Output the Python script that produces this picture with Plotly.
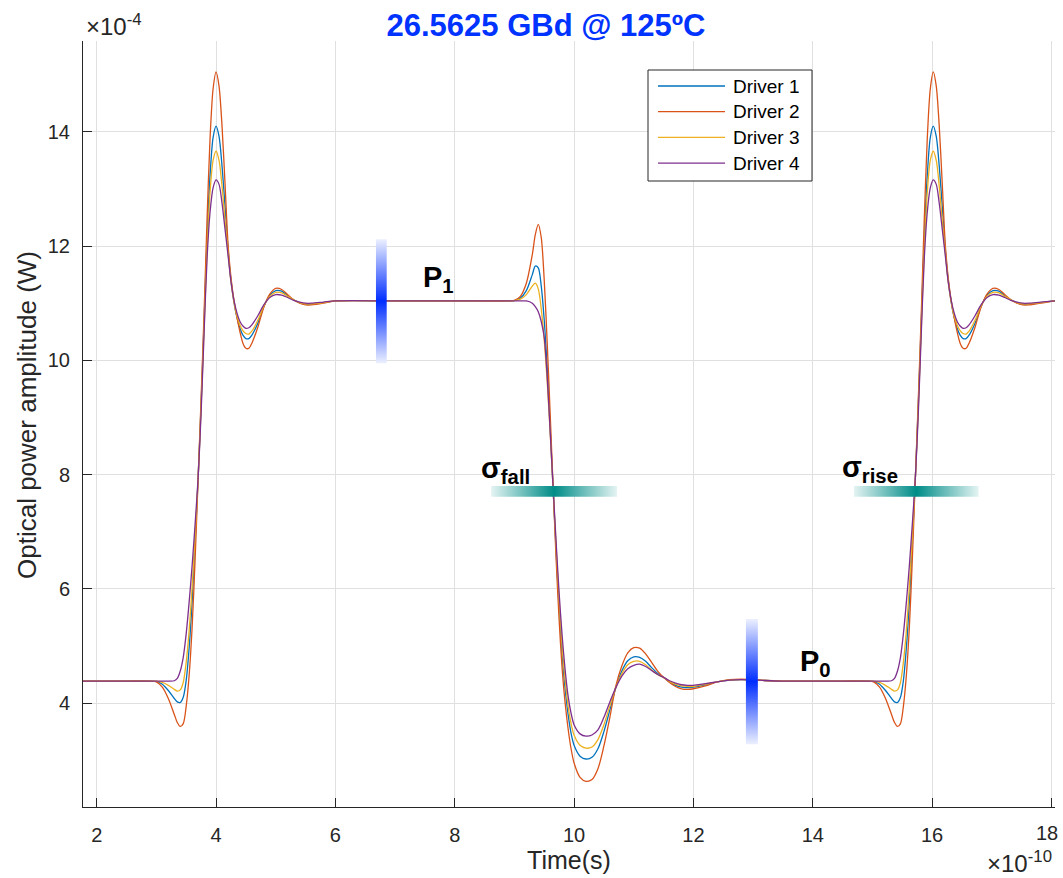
import plotly.graph_objects as go

# Time in units of 1e-10 s, optical power in units of 1e-4 W
time_e10 = [
    # first rising edge
    1.77, 2.5, 2.9, 3.0, 3.1, 3.2, 3.3, 3.35, 3.4, 3.45, 3.5, 3.55, 3.6, 3.65, 3.7,
    3.75, 3.8, 3.85, 3.9, 3.95, 4.0, 4.05, 4.1, 4.15, 4.2, 4.25, 4.3, 4.35, 4.4, 4.45,
    4.5, 4.55, 4.6, 4.7, 4.8, 4.9, 5.0, 5.1, 5.2, 5.3, 5.4, 5.5, 5.6, 5.8, 6.0,
    # falling edge
    7.0, 8.0, 8.9, 9.0, 9.1, 9.2, 9.3, 9.35, 9.4, 9.45, 9.5, 9.55, 9.6, 9.65, 9.7,
    9.75, 9.8, 9.85, 9.9, 9.95, 10.0, 10.1, 10.2, 10.3, 10.4, 10.5, 10.6, 10.7, 10.8,
    10.9, 11.0, 11.1, 11.2, 11.3, 11.4, 11.5, 11.6, 11.7, 11.8, 11.9, 12.0, 12.2, 12.4,
    12.6, 12.8, 13.0, 13.2, 13.5, 14.0, 14.5,
    # second rising edge
    14.92, 15.02, 15.12, 15.22, 15.32, 15.37, 15.42, 15.47, 15.52, 15.57, 15.62, 15.67,
    15.72, 15.77, 15.82, 15.87, 15.92, 15.97, 16.02, 16.07, 16.12, 16.17, 16.22, 16.27,
    16.32, 16.37, 16.42, 16.47, 16.52, 16.57, 16.62, 16.72, 16.82, 16.92, 17.02, 17.12,
    17.22, 17.32, 17.42, 17.52, 17.62, 17.82, 18.06,
]

driver1 = [
    4.385, 4.385, 4.385, 4.378, 4.33, 4.22, 4.08, 4.02, 4.01, 4.10, 4.40, 4.98, 5.80, 6.85, 7.95,
    9.25, 10.70, 12.15, 13.25, 13.90, 14.10, 13.92, 13.40, 12.70, 11.95, 11.40, 11.02, 10.75, 10.56, 10.44,
    10.38, 10.38, 10.44, 10.65, 10.94, 11.14, 11.22, 11.21, 11.13, 11.06, 11.01, 10.98, 10.98, 11.01, 11.04,
    11.04, 11.04, 11.04, 11.045, 11.09, 11.22, 11.50, 11.65, 11.62, 11.30, 10.70, 9.85, 8.80, 7.72, 6.65,
    5.65, 4.85, 4.25, 3.80, 3.47, 3.26, 3.07, 3.02, 3.05, 3.20, 3.50, 3.88, 4.27, 4.56,
    4.74, 4.81, 4.80, 4.73, 4.62, 4.52, 4.45, 4.37, 4.31, 4.28, 4.27, 4.28, 4.32, 4.37,
    4.40, 4.41, 4.405, 4.395, 4.385, 4.385, 4.385,
    4.385, 4.378, 4.33, 4.22, 4.08, 4.02, 4.01, 4.10, 4.40, 4.98, 5.80, 6.85,
    7.95, 9.25, 10.70, 12.15, 13.25, 13.90, 14.10, 13.92, 13.40, 12.70, 11.95, 11.40,
    11.02, 10.75, 10.56, 10.44, 10.38, 10.38, 10.44, 10.65, 10.94, 11.14, 11.22, 11.21,
    11.13, 11.06, 11.01, 10.98, 10.98, 11.01, 11.04,
]

driver2 = [
    4.385, 4.385, 4.385, 4.37, 4.28, 4.08, 3.80, 3.66, 3.59, 3.64, 3.95, 4.50, 5.35, 6.55, 7.95,
    9.35, 10.85, 12.50, 13.90, 14.75, 15.05, 14.80, 14.10, 13.10, 12.05, 11.45, 11.05, 10.75, 10.50, 10.30,
    10.21, 10.21, 10.30, 10.58, 10.93, 11.16, 11.26, 11.24, 11.15, 11.06, 11.00, 10.97, 10.97, 11.00, 11.04,
    11.04, 11.04, 11.04, 11.05, 11.12, 11.35, 11.85, 12.20, 12.38, 12.15, 11.40, 10.30, 9.05, 7.75, 6.50,
    5.45, 4.60, 4.00, 3.55, 3.20, 2.95, 2.70, 2.63, 2.66, 2.85, 3.25, 3.75, 4.30, 4.65,
    4.88, 4.97, 4.96, 4.86, 4.71, 4.56, 4.45, 4.36, 4.29, 4.25, 4.24, 4.25, 4.30, 4.37,
    4.41, 4.42, 4.41, 4.395, 4.385, 4.385, 4.385,
    4.385, 4.37, 4.28, 4.08, 3.80, 3.66, 3.59, 3.64, 3.95, 4.50, 5.35, 6.55,
    7.95, 9.35, 10.85, 12.50, 13.90, 14.75, 15.05, 14.80, 14.10, 13.10, 12.05, 11.45,
    11.05, 10.75, 10.50, 10.30, 10.21, 10.21, 10.30, 10.58, 10.93, 11.16, 11.26, 11.24,
    11.15, 11.06, 11.00, 10.97, 10.97, 11.00, 11.04,
]

driver3 = [
    4.385, 4.385, 4.385, 4.382, 4.36, 4.31, 4.24, 4.21, 4.23, 4.36, 4.72, 5.28, 6.05, 6.95, 7.95,
    9.20, 10.60, 11.95, 12.95, 13.50, 13.66, 13.50, 13.05, 12.45, 11.90, 11.38, 11.02, 10.78, 10.62, 10.52,
    10.47, 10.46, 10.51, 10.70, 10.95, 11.12, 11.19, 11.18, 11.12, 11.06, 11.01, 10.99, 10.99, 11.01, 11.04,
    11.04, 11.04, 11.04, 11.043, 11.07, 11.15, 11.30, 11.35, 11.25, 10.90, 10.35, 9.62, 8.72, 7.72, 6.72,
    5.80, 5.00, 4.40, 3.95, 3.64, 3.44, 3.26, 3.21, 3.23, 3.36, 3.62, 3.95, 4.27, 4.51,
    4.67, 4.73, 4.73, 4.67, 4.58, 4.50, 4.45, 4.38, 4.33, 4.30, 4.29, 4.29, 4.33, 4.37,
    4.40, 4.41, 4.405, 4.395, 4.385, 4.385, 4.385,
    4.385, 4.382, 4.36, 4.31, 4.24, 4.21, 4.23, 4.36, 4.72, 5.28, 6.05, 6.95,
    7.95, 9.20, 10.60, 11.95, 12.95, 13.50, 13.66, 13.50, 13.05, 12.45, 11.90, 11.38,
    11.02, 10.78, 10.62, 10.52, 10.47, 10.46, 10.51, 10.70, 10.95, 11.12, 11.19, 11.18,
    11.12, 11.06, 11.01, 10.99, 10.99, 11.01, 11.04,
]

driver4 = [
    4.385, 4.385, 4.385, 4.385, 4.385, 4.385, 4.39, 4.43, 4.56, 4.80, 5.22, 5.78, 6.42, 7.15, 7.95,
    9.10, 10.50, 11.80, 12.60, 13.02, 13.16, 13.08, 12.75, 12.30, 11.85, 11.38, 11.05, 10.83, 10.68, 10.60,
    10.56, 10.57, 10.62, 10.78, 10.97, 11.10, 11.15, 11.14, 11.10, 11.05, 11.02, 11.00, 11.00, 11.02, 11.04,
    11.04, 11.04, 11.04, 11.04, 11.04, 11.04, 11.00, 10.94, 10.85, 10.68, 10.40, 9.70, 8.75, 7.75, 6.80,
    5.92, 5.18, 4.58, 4.12, 3.82, 3.62, 3.46, 3.42, 3.44, 3.53, 3.75, 4.02, 4.27, 4.47,
    4.60, 4.66, 4.68, 4.64, 4.57, 4.50, 4.45, 4.39, 4.35, 4.32, 4.31, 4.31, 4.34, 4.37,
    4.40, 4.41, 4.405, 4.395, 4.385, 4.385, 4.385,
    4.385, 4.385, 4.385, 4.385, 4.39, 4.43, 4.56, 4.80, 5.22, 5.78, 6.42, 7.15,
    7.95, 9.10, 10.50, 11.80, 12.60, 13.02, 13.16, 13.08, 12.75, 12.30, 11.85, 11.38,
    11.05, 10.83, 10.68, 10.60, 10.56, 10.57, 10.62, 10.78, 10.97, 11.10, 11.15, 11.14,
    11.10, 11.05, 11.02, 11.00, 11.00, 11.02, 11.04,
]

driver_names = ["Driver 1", "Driver 2", "Driver 3", "Driver 4"]
driver_colors = ["#0072BD", "#D95319", "#EDB120", "#7E2F8E"]
x_ticks = [2, 4, 6, 8, 10, 12, 14, 16, 18]
y_ticks = [4, 6, 8, 10, 12, 14]
# the last x label is drawn separately, nudged left to stay inside the page
x_ticktext = ["2", "4", "6", "8", "10", "12", "14", "16", ""]

# Level / transition markers (x range, y range in axis units)
p1_bar = dict(x=(6.68, 6.86), y=(9.95, 12.12))
p0_bar = dict(x=(12.88, 13.08), y=(3.28, 5.47))
fall_bar = dict(x=(8.61, 10.72), y=(7.61, 7.80))
rise_bar = dict(x=(14.69, 16.78), y=(7.61, 7.80))

FONT = "Liberation Sans, Arial, Helvetica, sans-serif"
INK = "#262626"

fig = go.Figure()
for name, col, vals in zip(driver_names, driver_colors, [driver1, driver2, driver3, driver4]):
    assert len(vals) == len(time_e10), name
    fig.add_trace(go.Scatter(
        x=time_e10, y=vals, name=name, mode="lines",
        line=dict(color=col, width=1.3, shape="spline", smoothing=0.8),
        showlegend=False, hoverinfo="skip",
    ))


def gradient_bar(bar, direction, dark, light):
    x0, x1 = bar["x"]
    y0, y1 = bar["y"]
    fig.add_trace(go.Scatter(
        x=[x0, x1, x1, x0, x0], y=[y0, y0, y1, y1, y0],
        mode="lines", line=dict(width=0), fill="toself",
        fillgradient=dict(type=direction,
                          colorscale=[[0, light], [0.5, dark], [1, light]]),
        showlegend=False, hoverinfo="skip",
    ))


gradient_bar(p1_bar, "vertical", "rgb(0,45,255)", "rgb(236,240,255)")
gradient_bar(p0_bar, "vertical", "rgb(0,45,255)", "rgb(236,240,255)")
gradient_bar(fall_bar, "horizontal", "rgb(0,140,135)", "rgb(228,244,243)")
gradient_bar(rise_bar, "horizontal", "rgb(0,140,135)", "rgb(228,244,243)")

label_font = dict(family=FONT, size=29, color="black")
for txt, x, y in [("<b>P<sub>1</sub></b>", 7.72, 11.42),
                  ("<b>P<sub>0</sub></b>", 14.04, 4.70),
                  ("<b>σ<sub>fall</sub></b>", 8.85, 8.08),
                  ("<b>σ<sub>rise</sub></b>", 14.96, 8.10)]:
    fig.add_annotation(x=x, y=y, text=txt, showarrow=False, font=label_font,
                       xanchor="center", yanchor="middle")

# Plot area in pixels
L, R, T, B = 83, 1055, 41, 807
W, H = 1063, 878


def px(xp, yp):
    return (xp - L) / (R - L), (B - yp) / (B - T)


# Last x tick label
_, ty = px(0, 833)
fig.add_annotation(x=x_ticks[-1], xref="x", y=ty, yref="paper", text=str(x_ticks[-1]),
                   showarrow=False, xanchor="center", yanchor="middle", xshift=-4,
                   font=dict(family=FONT, size=20, color=INK))

# Legend box
lx0, ly0 = px(648, 181)
lx1, ly1 = px(812, 70)
fig.add_shape(type="rect", xref="paper", yref="paper", x0=lx0, y0=ly0, x1=lx1, y1=ly1,
              line=dict(color=INK, width=1), fillcolor="white", layer="above")
for i, (name, col) in enumerate(zip(driver_names, driver_colors)):
    yrow = 86 + i * 25.7
    ax0, ay = px(658, yrow)
    ax1, _ = px(725, yrow)
    fig.add_shape(type="line", xref="paper", yref="paper", x0=ax0, x1=ax1, y0=ay, y1=ay,
                  line=dict(color=col, width=1.3), layer="above")
    tx, _ = px(731, yrow)
    fig.add_annotation(xref="paper", yref="paper", x=tx, y=ay, text=name, showarrow=False,
                       xanchor="left", yanchor="middle",
                       font=dict(family=FONT, size=19, color="black"))

# Axis exponent labels
ex, ey = px(84, 25)
fig.add_annotation(xref="paper", yref="paper", x=ex, y=ey, text="×10<sup>-4</sup>",
                   showarrow=False, xanchor="left", yanchor="middle",
                   font=dict(family=FONT, size=24, color=INK))
ex, ey = px(1054, 862)
fig.add_annotation(xref="paper", yref="paper", x=ex, y=ey, text="×10<sup>-10</sup>",
                   showarrow=False, xanchor="right", yanchor="middle",
                   font=dict(family=FONT, size=24, color=INK))

# Y-axis label
yx, yy = px(27, 415)
fig.add_annotation(xref="paper", yref="paper", x=yx, y=yy, text="Optical power amplitude (W)",
                   showarrow=False, textangle=-90, xanchor="center", yanchor="middle",
                   font=dict(family=FONT, size=26, color=INK))

axis_common = dict(
    showline=True, linecolor=INK, linewidth=1, mirror=False, automargin=False,
    ticks="inside", ticklen=9, tickwidth=1, tickcolor=INK,
    showgrid=True, gridcolor="#e0e0e0", gridwidth=1, zeroline=False,
    tickfont=dict(family=FONT, size=20, color=INK),
)

fig.update_layout(
    width=W, height=H,
    margin=dict(l=L, r=W - R, t=T, b=H - B),
    paper_bgcolor="white", plot_bgcolor="white",
    showlegend=False,
    title=dict(text="<b>26.5625 GBd @ 125ºC</b>", x=546 / W, xref="container",
               y=1 - 25 / H, yanchor="middle", xanchor="center",
               font=dict(family=FONT, size=31, color="#0033ff")),
    xaxis=dict(range=[1.77, 18.06], tickvals=x_ticks, ticktext=x_ticktext,
               title=dict(text="Time(s)", font=dict(family=FONT, size=25, color=INK), standoff=5),
               ticklabelstandoff=10, **axis_common),
    yaxis=dict(range=[2.18, 15.59], tickvals=y_ticks, ticktext=[str(v) for v in y_ticks],
               ticklabelstandoff=8, **axis_common),
)

fig.write_html("out.html")
